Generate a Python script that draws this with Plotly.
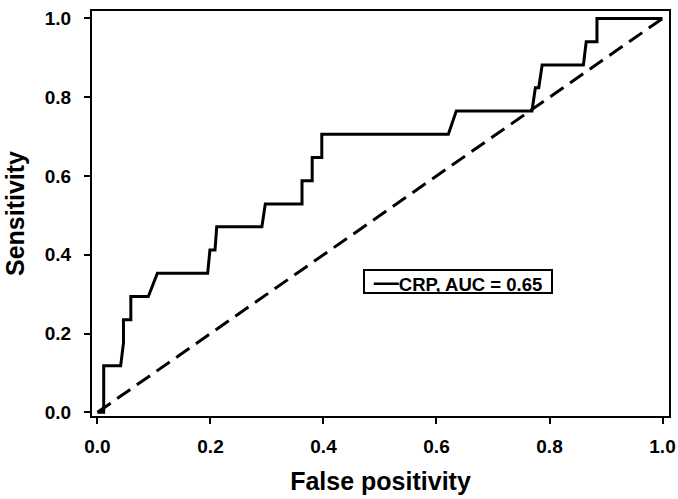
import plotly.graph_objects as go

# ROC curve for CRP
fpr = [0.000, 0.011, 0.011, 0.041, 0.046, 0.046, 0.059, 0.059, 0.090, 0.106,
       0.195, 0.199, 0.208, 0.211, 0.291, 0.297, 0.362, 0.362, 0.380, 0.380,
       0.397, 0.397, 0.621, 0.635, 0.769, 0.775, 0.781, 0.787, 0.860, 0.865,
       0.884, 0.884, 1.000]
tpr = [0.000, 0.000, 0.118, 0.118, 0.176, 0.235, 0.235, 0.294, 0.294, 0.353,
       0.353, 0.412, 0.412, 0.471, 0.471, 0.529, 0.529, 0.588, 0.588, 0.647,
       0.647, 0.706, 0.706, 0.765, 0.765, 0.824, 0.824, 0.882, 0.882, 0.941,
       0.941, 1.000, 1.000]

# reference (chance) line
ref_x = [0.0, 1.0]
ref_y = [0.0, 1.0]

tick_vals = [0.0, 0.2, 0.4, 0.6, 0.8, 1.0]
tick_text = ["0.0", "0.2", "0.4", "0.6", "0.8", "1.0"]

series_name = "CRP, AUC = 0.65"
x_title = "False positivity"
y_title = "Sensitivity"

FONT = "Liberation Sans, Arial, Helvetica, sans-serif"

fig = go.Figure()
fig.add_trace(go.Scatter(
    x=ref_x, y=ref_y, mode="lines",
    line=dict(color="black", width=3, dash="16px,8px"),
    showlegend=False, hoverinfo="skip"))
fig.add_trace(go.Scatter(
    x=fpr, y=tpr, mode="lines", name=series_name,
    line=dict(color="black", width=3), showlegend=False))

axis_common = dict(
    showline=True, linecolor="black", linewidth=2, mirror=True,
    showgrid=False, zeroline=False,
    ticks="outside", ticklen=6, tickwidth=2, tickcolor="black",
    tickmode="array", tickvals=tick_vals, ticktext=tick_text,
    tickfont=dict(family=FONT, size=19, color="black", weight="bold"),
)

fig.update_xaxes(
    range=[-0.0097, 1.0115],
    title=dict(text=x_title, font=dict(family=FONT, size=25, color="black", weight="bold"),
               standoff=17),
    ticklabelstandoff=6,
    **axis_common)
fig.update_yaxes(
    range=[-0.0094, 1.019],
    title=dict(text=y_title, font=dict(family=FONT, size=25, color="black", weight="bold"),
               standoff=13),
    ticklabelstandoff=9,
    **axis_common)

# legend box drawn as a bordered annotation (compact, like the reference)
fig.add_annotation(
    xref="paper", yref="paper", x=0.6343, y=0.3319,
    xanchor="center", yanchor="middle",
    text='<span style="font-size:25px">—</span>' + series_name,
    showarrow=False, width=186, height=21, align="center", valign="middle",
    bgcolor="white", bordercolor="black", borderwidth=2, borderpad=0,
    font=dict(family=FONT, size=18.5, color="black", weight="bold"),
)

fig.update_layout(
    width=678, height=499,
    margin=dict(l=92, r=9, t=11, b=83, autoexpand=False),
    plot_bgcolor="white", paper_bgcolor="white",
    font=dict(family=FONT, color="black"),
    showlegend=False,
)

fig.write_html(
    "out.html",
    config={"displayModeBar": False},
    post_script="document.body.style.margin='0';document.body.style.overflow='hidden';",
)
